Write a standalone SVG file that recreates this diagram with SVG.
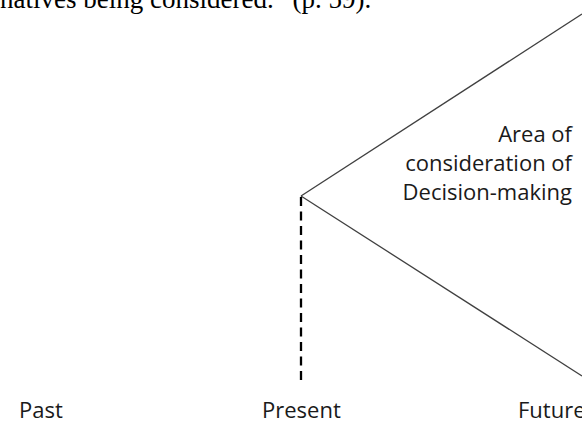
<svg xmlns="http://www.w3.org/2000/svg" width="582" height="423" viewBox="0 0 582 423">
  <style>
    .lbl { font-family: "Open Sans", "Liberation Sans", sans-serif; font-size: 22px; fill: #1a1a1a; }
    .cap { font-family: "Liberation Serif", "Times New Roman", serif; font-size: 27px; fill: #000; }
    .ray { stroke: #404040; stroke-width: 1.3; fill: none; }
    .dash { stroke: #000; stroke-width: 2.3; stroke-dasharray: 9 5.5; fill: none; }
  </style>
  <rect width="582" height="423" fill="#fff"/>
  <text class="cap" x="0" y="8">natives being considered.”  (p. 59).</text>
  <g id="connectors">
    <line class="ray" x1="301" y1="196" x2="582" y2="14"/>
    <line class="ray" x1="301" y1="196" x2="582" y2="376"/>
    <line class="dash" x1="301" y1="197" x2="301" y2="382"/>
  </g>
  <g id="area">
    <text class="lbl" text-anchor="end" x="572" y="142">Area of</text>
    <text class="lbl" text-anchor="end" x="572" y="171">consideration of</text>
    <text class="lbl" text-anchor="end" x="572" y="200">Decision-making</text>
  </g>
  <g id="past"><text class="lbl" x="19" y="418">Past</text></g>
  <g id="present"><text class="lbl" x="262" y="418">Present</text></g>
  <g id="future"><text class="lbl" x="518" y="418">Future</text></g>
</svg>
